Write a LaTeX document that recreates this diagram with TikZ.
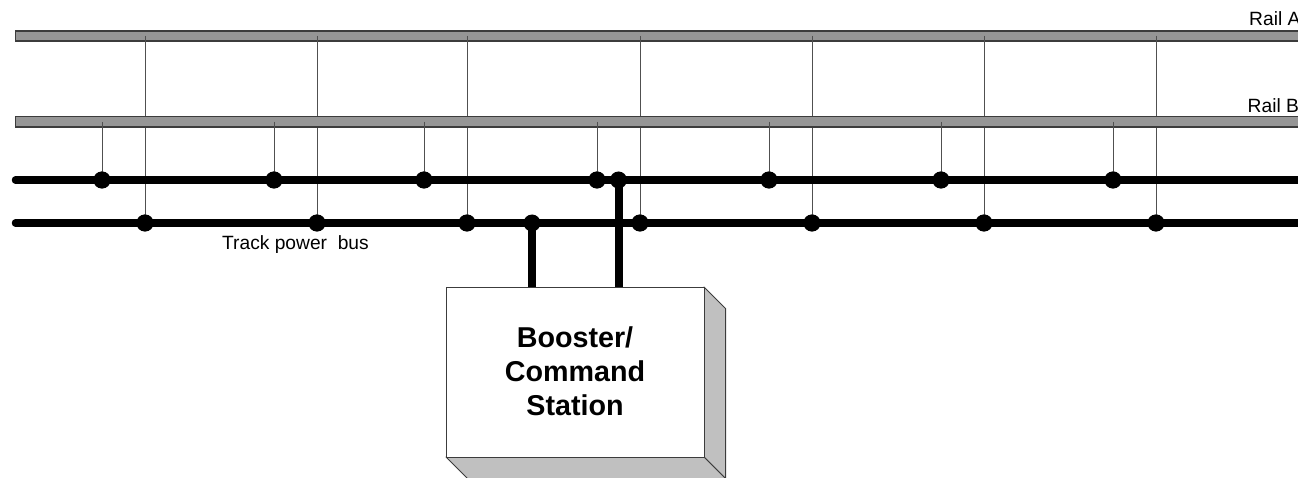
\documentclass[tikz,border=0pt]{standalone}
\usepackage{fontspec}
\setmainfont{Liberation Sans}
\definecolor{railfill}{HTML}{969696}
\definecolor{railedge}{HTML}{3C3C3C}
\definecolor{wirecol}{HTML}{505050}
\definecolor{sidefill}{HTML}{C0C0C0}
\tikzset{
  rail/.style={draw=railedge,fill=railfill,line width=1.3pt},
  tap/.style={draw=wirecol,line width=1pt},
  bus/.style={draw=black,line width=7.5pt},
  feed/.style={draw=black,line width=8pt},
  joint/.style={circle,fill=black,inner sep=0pt,minimum size=17pt},
  boxside/.style={draw=railedge,fill=sidefill,line width=1pt,line join=round},
  label/.style={inner sep=0pt,font=\fontsize{19.2}{22}\selectfont},
}
\begin{document}
\begin{tikzpicture}[x=1pt,y=-1pt]
\useasboundingbox (0,0) rectangle (1298,478);
\clip (0,0) rectangle (1298,478);
% Rail A and its taps
\draw[rail] (15.5,31) rectangle (1320,41);
\foreach \n/\x in {a/145,b/317,c/467,d/640,e/812,f/984,g/1156}{
  \coordinate (top\n) at (\x,36);
  \node[joint] (low\n) at (\x,223) {};
  \draw[tap] (top\n) -- (low\n.center);
}
% Rail B and its taps
\draw[rail] (15.5,116.5) rectangle (1320,127);
\foreach \n/\x in {a/102,b/274,c/424,d/597,e/769,f/941,g/1113}{
  \coordinate (mid\n) at (\x,122);
  \node[joint] (up\n) at (\x,180) {};
  \draw[tap] (mid\n) -- (up\n.center);
}
% Buses
\coordinate (busAl) at (15.5,180);
\coordinate (busAr) at (1320,180);
\coordinate (busBl) at (15.5,223);
\coordinate (busBr) at (1320,223);
\draw[bus,line cap=round] (busAl) -- (busAr);
\draw[bus,line cap=round] (busBl) -- (busBr);
% Booster box
\draw[boxside] (704,287) -- (725.5,308.5) -- (725.5,478.5) -- (704,457) -- cycle;
\draw[boxside] (446,457) -- (704,457) -- (725.5,478.5) -- (467.5,478.5) -- cycle;
\node[draw=railedge,fill=white,line width=1pt,minimum width=258pt,minimum height=170pt,inner sep=0pt,anchor=north west] (booster) at (446,287) {};
\node[joint] (feedA) at (618.5,180) {};
\node[joint] (feedB) at (532,223) {};
\coordinate (inA) at (618.5,287);
\coordinate (inB) at (532,287);
\draw[feed] (feedA.center) -- (inA);
\draw[feed] (feedB.center) -- (inB);
\foreach \n in {a,b,c,d,e,f,g}{
  \node[joint] at (low\n) {};
  \node[joint] at (up\n) {};
}
\node[align=center,inner sep=0pt,font=\fontsize{28.7}{34}\selectfont\bfseries] (boostertext) at (575,371) {Booster/\\Command\\Station};
% Labels
\node[label,anchor=base west] (railA) at (1249,26) {Rail A};
\node[label,anchor=base west] (railB) at (1247.5,113) {Rail B};
\node[label,anchor=base west] (buslabel) at (222,250) {Track power\ \ bus};
\end{tikzpicture}
\end{document}
